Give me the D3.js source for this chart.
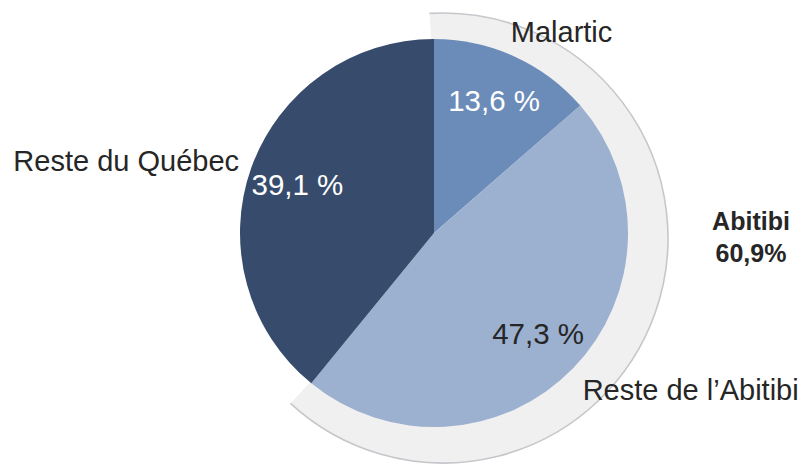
<!DOCTYPE html>
<html>
<head>
<meta charset="utf-8">
<script src="https://cdn.jsdelivr.net/npm/d3@7"></script>
<style>
  body { margin: 0; background: #fff; }
  text { font-family: "Liberation Sans", Arial, sans-serif; }
</style>
</head>
<body>
<div class="piechart"></div>
<script>
// data
var categories = ["Malartic", "Reste de l\u2019Abitibi", "Reste du Québec"];
var shares = [13.6, 47.3, 39.1];
var groupName = "Abitibi";
var groupShare = 60.9;   // Malartic + Reste de l'Abitibi
var groupCount = 2;      // first two slices form the group

var w = 801;
var h = 465;
var cx = 434, cy = 233, R = 194;

var color = d3.scaleOrdinal()
    .domain(categories)
    .range(["#6b8bb8", "#9cb0cf", "#374c6c"]);

var fmt = function(v){ return d3.format(".1f")(v).replace(".", ","); };

var svg = d3.select(".piechart")
    .append("svg")
    .attr("width", w)
    .attr("height", h);

var pie = d3.pie().sort(null).value(function(d){ return d.value; });
var dataset = categories.map(function(c, i){ return {name: c, value: shares[i]}; });
var arcs = pie(dataset);

// grey band behind the Abitibi slices
var bandStart = arcs[0].startAngle;
var bandEnd = arcs[groupCount - 1].endAngle;
var bandPad = 0.06;
var bandR = 225;
var band = svg.append("g")
    .attr("transform", "translate(" + (cx + 9) + "," + (cy + 5) + ")");
band.append("path")
    .attr("fill", "#f0f0f0")
    .attr("d", d3.arc()
        .innerRadius(120)
        .outerRadius(bandR)
        .startAngle(bandStart - bandPad)
        .endAngle(bandEnd + bandPad)());
band.append("path")
    .attr("fill", "none")
    .attr("stroke", "#c5c7cb")
    .attr("stroke-width", 1.6)
    .attr("d", d3.arc()
        .innerRadius(bandR)
        .outerRadius(bandR)
        .startAngle(bandStart - bandPad)
        .endAngle(bandEnd + bandPad)());

var g = svg.append("g")
    .attr("transform", "translate(" + cx + "," + cy + ")");

var arc = d3.arc().innerRadius(0).outerRadius(R);
g.selectAll(".slice")
    .data(arcs)
    .enter()
    .append("path")
    .attr("class", "slice")
    .attr("fill", function(d){ return color(d.data.name); })
    .attr("d", arc);

// percent labels inside
var pctArc = d3.arc().innerRadius(145).outerRadius(145);
g.selectAll(".pct")
    .data(arcs)
    .enter()
    .append("text")
    .attr("class", "pct")
    .attr("transform", function(d){ return "translate(" + pctArc.centroid(d) + ")"; })
    .attr("dy", "0.35em")
    .attr("text-anchor", "middle")
    .style("font-size", "29.5px")
    .attr("fill", function(d, i){ return i == 1 ? "#262626" : "#ffffff"; })
    .text(function(d){ return fmt(d.data.value) + " %"; });

// category labels outside
var nameArc = d3.arc().innerRadius(207).outerRadius(207);
var nudge = [[-9, -3], [0, 23], [0, 8]];
g.selectAll(".name")
    .data(arcs)
    .enter()
    .append("text")
    .attr("class", "name")
    .attr("transform", function(d, i){
        var p = nameArc.centroid(d);
        return "translate(" + (p[0] + nudge[i][0]) + "," + (p[1] + nudge[i][1]) + ")";
    })
    .attr("text-anchor", function(d){ return (d.startAngle + d.endAngle) / 2 < Math.PI ? "start" : "end"; })
    .style("font-size", "29px")
    .attr("fill", "#262626")
    .text(function(d){ return d.data.name; });

// group label
var gx = cx + 9 + bandR + 83;
var gl = svg.append("text")
    .attr("x", gx)
    .attr("y", cy + 5 - 8)
    .attr("text-anchor", "middle")
    .style("font-size", "25px")
    .style("font-weight", "bold")
    .attr("fill", "#262626");
gl.append("tspan").attr("x", gx).text(groupName);
gl.append("tspan").attr("x", gx).attr("dy", 32).text(fmt(groupShare) + "%");
</script>
</body>
</html>
